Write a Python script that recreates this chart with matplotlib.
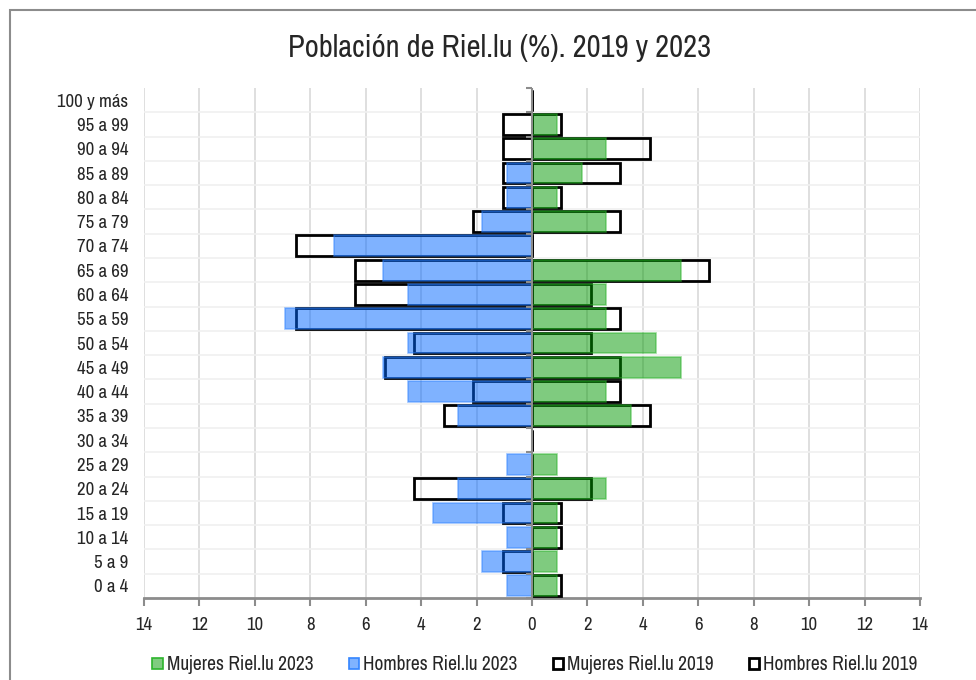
import matplotlib
matplotlib.use("Agg")
import matplotlib.pyplot as plt
from matplotlib import font_manager
from matplotlib.patches import Rectangle, Patch
from matplotlib.ticker import FuncFormatter, MultipleLocator
import numpy as np

# look for a narrow face, otherwise Roboto
nombres = sorted(set(f.name for f in font_manager.fontManager.ttflist))
estrechas = [n for n in nombres if 'Narrow' in n or 'Condensed' in n]
fuente = estrechas[0] if estrechas else 'Roboto'
plt.rcParams['font.family'] = [fuente, 'DejaVu Sans']

# age groups, bottom to top
edades = ['0 a 4', '5 a 9', '10 a 14', '15 a 19', '20 a 24', '25 a 29', '30 a 34',
          '35 a 39', '40 a 44', '45 a 49', '50 a 54', '55 a 59', '60 a 64',
          '65 a 69', '70 a 74', '75 a 79', '80 a 84', '85 a 89', '90 a 94',
          '95 a 99', '100 y más']

# percentages
hombres_2023 = [0.89, 1.79, 0.89, 3.57, 2.68, 0.89, 0.0, 2.68, 4.46, 5.36, 4.46,
                8.93, 4.46, 5.36, 7.14, 1.79, 0.89, 0.89, 0.0, 0.0, 0.0]
mujeres_2023 = [0.89, 0.89, 0.89, 0.89, 2.68, 0.89, 0.0, 3.57, 2.68, 5.36, 4.46,
                2.68, 2.68, 5.36, 0.0, 2.68, 0.89, 1.79, 2.68, 0.89, 0.0]
hombres_2019 = [0.0, 1.06, 0.0, 1.06, 4.26, 0.0, 0.0, 3.19, 2.13, 5.32, 4.26,
                8.51, 6.38, 6.38, 8.51, 2.13, 1.06, 1.06, 1.06, 1.06, 0.0]
mujeres_2019 = [1.06, 0.0, 1.06, 1.06, 2.13, 0.0, 0.0, 4.26, 3.19, 3.19, 2.13,
                3.19, 2.13, 6.38, 0.0, 3.19, 1.06, 3.19, 4.26, 1.06, 0.0]

y = np.arange(len(edades))
h = 0.86
gris = '#8c8c8c'
texto = '#262626'

fig = plt.figure(figsize=(9.76, 6.8), dpi=100)
# outer chart border (cut at right/bottom like the original)
fig.patches.append(Rectangle((10/976, -0.1), 1.2, 1 - 10/680 + 0.1,
                             transform=fig.transFigure, fill=False,
                             edgecolor=gris, lw=1.5))

ax = fig.add_axes([144/976, 1 - 598/680, (920-144)/976, 510/680])

# 2019: outlines only
ax.barh(y, [-v for v in hombres_2019], height=h, facecolor='none',
        edgecolor='black', lw=2.0, zorder=3)
ax.barh(y, mujeres_2019, height=h, facecolor='none',
        edgecolor='black', lw=2.0, zorder=3)
# 2023: translucent on top
ax.barh(y, [-v for v in hombres_2023], height=h, color='#0066ff', alpha=0.5,
        edgecolor='#3385ff', lw=1.2, zorder=4)
ax.barh(y, mujeres_2023, height=h, color='#009900', alpha=0.5,
        edgecolor='#2db52d', lw=1.2, zorder=4)

ax.set_xlim(-14, 14)
ax.set_ylim(-0.5, len(edades) - 0.5)
ax.xaxis.set_major_locator(MultipleLocator(2))
ax.xaxis.set_major_formatter(FuncFormatter(lambda v, p: '%d' % abs(v)))
ax.set_yticks(y)
ax.set_yticklabels(edades)
ax.set_yticks(y[:-1] + 0.5, minor=True)

ax.grid(axis='x', which='major', color='#d9d9d9', lw=1.2, zorder=0)
ax.grid(axis='y', which='minor', color='#f0f0f0', lw=1.2, zorder=0)
ax.set_axisbelow(True)

for s in ['top', 'right', 'left']:
    ax.spines[s].set_visible(False)
ax.spines['bottom'].set_color(gris)
ax.spines['bottom'].set_linewidth(2)
ax.tick_params(axis='x', colors=gris, width=1.5, length=6, labelcolor=texto,
               labelsize=13.5, pad=8)
ax.tick_params(axis='y', which='both', length=0, labelsize=13.5, pad=11.5,
               labelcolor=texto)

# category axis at x = 0 with small ticks between groups
ax.axvline(0, color=gris, lw=1.5, zorder=5)
limites = np.append(y - 0.5, len(edades) - 0.5)
ax.plot(np.zeros(len(limites)), limites, ls='none', marker=0, ms=4,
        mew=1.5, color=gris, zorder=5, clip_on=False)

fig.text(500/976, 1 - 48/680, 'Población de Riel.lu (%). 2019 y 2023',
         ha='center', va='center', fontsize=22, color=texto)

handles = [Patch(facecolor='#80cc80', edgecolor='#2db52d', lw=1.2),
           Patch(facecolor='#80b3ff', edgecolor='#3385ff', lw=1.2),
           Patch(facecolor='white', edgecolor='black', lw=2),
           Patch(facecolor='white', edgecolor='black', lw=2)]
labels = ['Mujeres Riel.lu 2023', 'Hombres Riel.lu 2023',
          'Mujeres Riel.lu 2019', 'Hombres Riel.lu 2019']
fig.legend(handles, labels, loc='center', bbox_to_anchor=(535/976, 1 - 665/680),
           ncol=4, frameon=False, fontsize=14, handlelength=0.55,
           handleheight=0.55, handletextpad=0.2, columnspacing=1.8,
           labelcolor=texto)

fig.savefig('out.png', dpi=100)
